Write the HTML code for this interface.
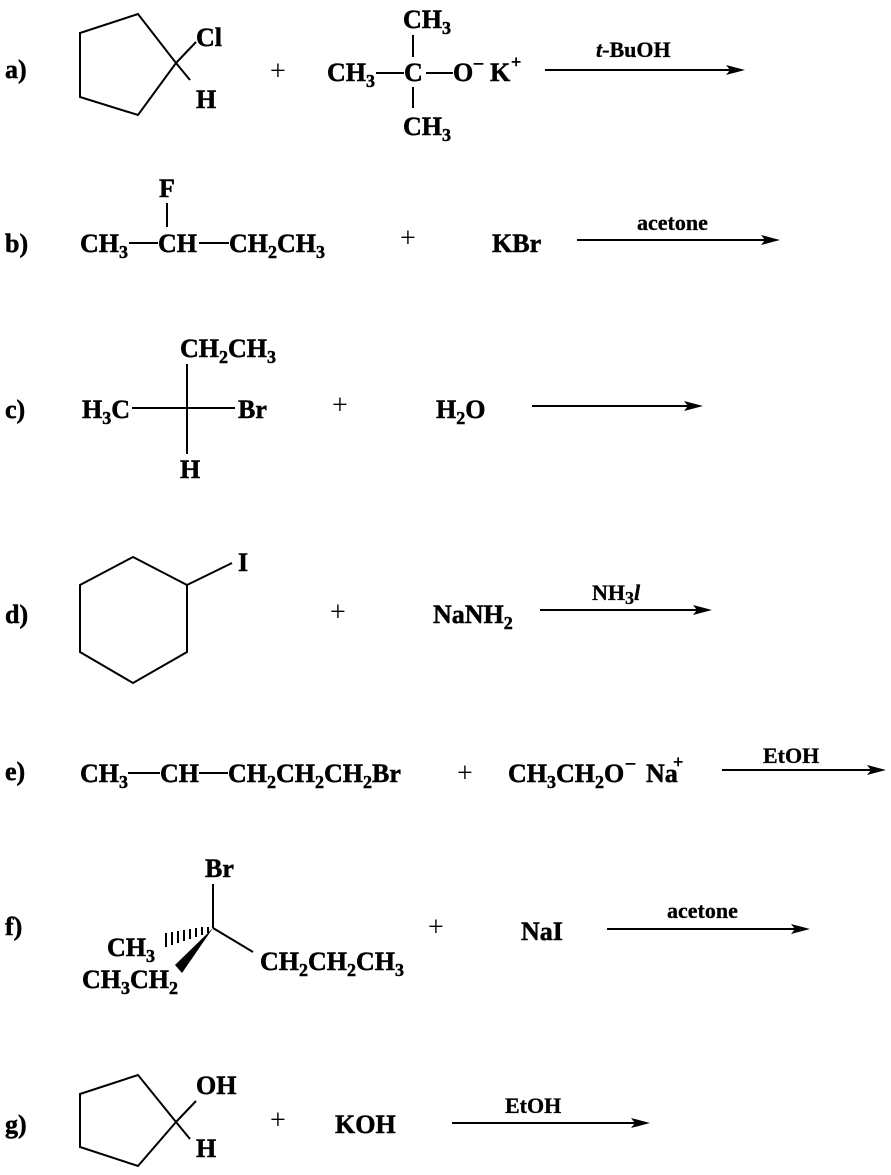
<!DOCTYPE html>
<html><head><meta charset="utf-8"><style>
html,body{margin:0;padding:0;background:#fff}
svg{display:block}
text{font-family:"Liberation Serif",serif;font-weight:bold;font-size:26px;fill:#000;stroke:#000;stroke-width:0.5}
.s{font-size:18px}
.r{font-size:22px;stroke-width:0.3}
.p{font-weight:normal;font-size:28px;stroke-width:0}
line,polyline,polygon{stroke:#000;stroke-width:2;fill:none}
.ah{fill:#000;stroke:none}
</style></head><body>
<svg width="891" height="1175" viewBox="0 0 891 1175" xmlns="http://www.w3.org/2000/svg">
<!-- a -->
<text x="5" y="78">a)</text>
<polygon points="80,33 138,14 176,63 138,115 80,97"/>
<line x1="176" y1="63" x2="196" y2="42"/>
<line x1="176" y1="63" x2="190" y2="80"/>
<text x="196" y="46">Cl</text>
<text x="196" y="108">H</text>
<text x="270" y="80" class="p">+</text>
<text x="327" y="81">CH<tspan class="s" dy="6">3</tspan></text>
<line x1="376" y1="73" x2="404" y2="73"/>
<text x="404" y="81">C</text>
<line x1="426" y1="73" x2="453" y2="73"/>
<text x="453" y="81">O</text>
<text x="474" y="68" class="s">–</text>
<text x="490" y="81">K</text>
<text x="511" y="68" class="s">+</text>
<text x="403" y="28">CH<tspan class="s" dy="6">3</tspan></text>
<line x1="413" y1="35" x2="413" y2="57"/>
<line x1="413" y1="87" x2="413" y2="108"/>
<text x="403" y="135">CH<tspan class="s" dy="6">3</tspan></text>
<line x1="545" y1="70" x2="730" y2="70"/>
<polygon class="ah" points="745,70 726,65 730,70 726,75"/>
<text x="596" y="57" class="r"><tspan font-style="italic">t</tspan>-BuOH</text>
<!-- b -->
<text x="5" y="252">b)</text>
<text x="159" y="197">F</text>
<line x1="167" y1="203" x2="167" y2="227"/>
<text x="80" y="252">CH<tspan class="s" dy="6">3</tspan></text>
<line x1="129" y1="243" x2="158" y2="243"/>
<text x="158" y="252">CH</text>
<line x1="199" y1="243" x2="229" y2="243"/>
<text x="229" y="252">CH<tspan class="s" dy="6">2</tspan><tspan dy="-6">CH</tspan><tspan class="s" dy="6">3</tspan></text>
<text x="400" y="247" class="p">+</text>
<text x="492" y="252">KBr</text>
<line x1="577" y1="240" x2="765" y2="240"/>
<polygon class="ah" points="780,240 761,235 765,240 761,245"/>
<text x="637" y="230" class="r">acetone</text>
<!-- c -->
<text x="5" y="418">c)</text>
<text x="180" y="357">CH<tspan class="s" dy="6">2</tspan><tspan dy="-6">CH</tspan><tspan class="s" dy="6">3</tspan></text>
<line x1="187" y1="364" x2="187" y2="454"/>
<text x="82" y="418">H<tspan class="s" dy="6">3</tspan><tspan dy="-6">C</tspan></text>
<line x1="132" y1="408" x2="235" y2="408"/>
<text x="238" y="418">Br</text>
<text x="180" y="478">H</text>
<text x="332" y="414" class="p">+</text>
<text x="436" y="418">H<tspan class="s" dy="6">2</tspan><tspan dy="-6">O</tspan></text>
<line x1="532" y1="406" x2="688" y2="406"/>
<polygon class="ah" points="703,406 684,401 688,406 684,411"/>
<!-- d -->
<text x="5" y="623">d)</text>
<polygon points="80,585 133,557 187,585 187,652 133,683 80,652"/>
<line x1="187" y1="585" x2="232" y2="563"/>
<text x="238" y="571">I</text>
<text x="330" y="621" class="p">+</text>
<text x="433" y="623">NaNH<tspan class="s" dy="6">2</tspan></text>
<line x1="540" y1="610" x2="697" y2="610"/>
<polygon class="ah" points="712,610 693,605 697,610 693,615"/>
<text x="592" y="600" class="r">NH<tspan class="s" dy="4">3</tspan><tspan dy="-4" font-style="italic">l</tspan></text>
<!-- e -->
<text x="5" y="780">e)</text>
<text x="80" y="782">CH<tspan class="s" dy="6">3</tspan></text>
<line x1="128" y1="773" x2="160" y2="773"/>
<text x="160" y="782">CH</text>
<line x1="199" y1="773" x2="228" y2="773"/>
<text x="228" y="782">CH<tspan class="s" dy="6">2</tspan><tspan dy="-6">CH</tspan><tspan class="s" dy="6">2</tspan><tspan dy="-6">CH</tspan><tspan class="s" dy="6">2</tspan><tspan dy="-6">Br</tspan></text>
<text x="457" y="782" class="p">+</text>
<text x="508" y="782">CH<tspan class="s" dy="6">3</tspan><tspan dy="-6">CH</tspan><tspan class="s" dy="6">2</tspan><tspan dy="-6">O</tspan></text>
<text x="626" y="768" class="s">–</text>
<text x="646" y="782">Na</text>
<text x="673" y="768" class="s">+</text>
<line x1="722" y1="770" x2="871" y2="770"/>
<polygon class="ah" points="886,770 867,765 871,770 867,775"/>
<text x="763" y="763" class="r">EtOH</text>
<!-- f -->
<text x="5" y="935">f)</text>
<text x="205" y="877">Br</text>
<line x1="213" y1="884" x2="213" y2="928"/>
<line x1="213" y1="928" x2="253" y2="952"/>
<g stroke="#000" stroke-width="1.5">
<line x1="208" y1="927" x2="208" y2="933"/>
<line x1="202" y1="927" x2="202" y2="935"/>
<line x1="196" y1="928" x2="196" y2="937"/>
<line x1="190" y1="929" x2="190" y2="939"/>
<line x1="184" y1="930" x2="184" y2="941"/>
<line x1="178" y1="931" x2="178" y2="943"/>
<line x1="172" y1="932" x2="172" y2="945"/>
<line x1="166" y1="933" x2="166" y2="947"/>
</g>
<polygon class="ah" points="213,928 182,973 175,965"/>
<text x="107" y="956">CH<tspan class="s" dy="6">3</tspan></text>
<text x="82" y="988">CH<tspan class="s" dy="6">3</tspan><tspan dy="-6">CH</tspan><tspan class="s" dy="6">2</tspan></text>
<text x="260" y="970">CH<tspan class="s" dy="6">2</tspan><tspan dy="-6">CH</tspan><tspan class="s" dy="6">2</tspan><tspan dy="-6">CH</tspan><tspan class="s" dy="6">3</tspan></text>
<text x="428" y="936" class="p">+</text>
<text x="521" y="940">NaI</text>
<line x1="607" y1="929" x2="795" y2="929"/>
<polygon class="ah" points="810,929 791,924 795,929 791,934"/>
<text x="667" y="918" class="r">acetone</text>
<!-- g -->
<text x="5" y="1133">g)</text>
<polygon points="80,1094 138,1075 176,1122 138,1166 80,1147"/>
<line x1="176" y1="1122" x2="196" y2="1101"/>
<line x1="176" y1="1122" x2="190" y2="1139"/>
<text x="196" y="1094">OH</text>
<text x="196" y="1157">H</text>
<text x="270" y="1129" class="p">+</text>
<text x="335" y="1133">KOH</text>
<line x1="452" y1="1123" x2="635" y2="1123"/>
<polygon class="ah" points="650,1123 631,1118 635,1123 631,1128"/>
<text x="505" y="1113" class="r">EtOH</text>
</svg>
</body></html>
